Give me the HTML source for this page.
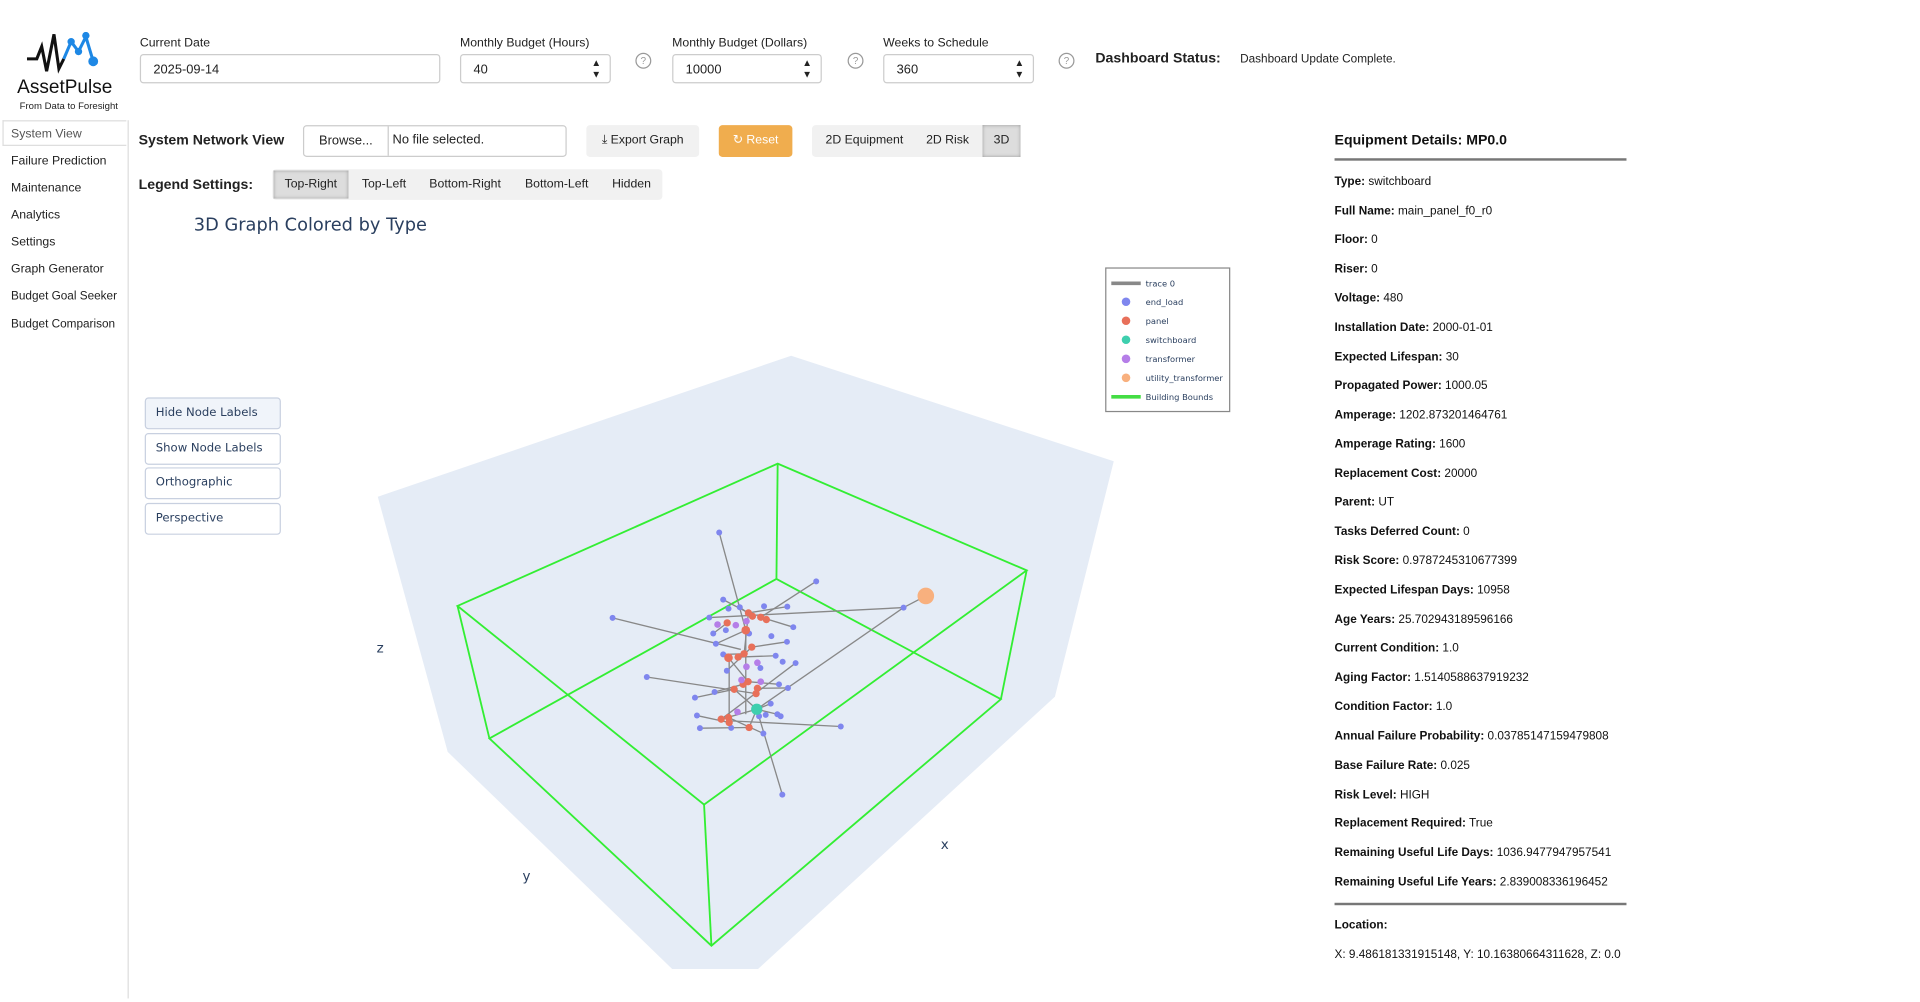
<!DOCTYPE html>
<html><head><meta charset="utf-8"><style>
html,body{margin:0;padding:0;background:#fff;overflow:hidden;width:1920px;height:1002px}
#w{position:absolute;left:0;top:0;width:1560px;height:814px;transform:scale(1.2266);transform-origin:0 0;font-family:"Liberation Sans",sans-serif;color:#222}
.a{position:absolute;white-space:nowrap}
.lbl{font-size:10px;color:#222}
.inp{position:absolute;height:24px;border:1px solid #ccc;border-radius:3px;box-sizing:border-box;font-size:10.5px;padding:6px 10px;background:#fff}
.spin{position:absolute;right:7px;top:2px;font-size:8px;line-height:9px}
.q{position:absolute;width:11px;height:11px;border:1px solid #999;border-radius:50%;font-size:8px;color:#999;text-align:center;line-height:11px}
.nav{position:absolute;left:9px;font-size:10px;white-space:nowrap}
.btn{position:absolute;height:26px;background:#f1f1f1;border-radius:3px;font-size:10px;line-height:26px;text-align:center}
.rp{position:absolute;left:1088px;font-size:9.6px;color:#111;white-space:nowrap}
.rp b{font-weight:bold}
.pb{position:absolute;left:118px;width:111px;height:26px;border:1px solid #c8d0e0;border-radius:3px;box-sizing:border-box;color:#2a3f5f;padding:6px 8px;font-family:"DejaVu Sans",sans-serif;font-size:9.5px;white-space:nowrap}
</style></head><body><div id="w">
<svg class="a" style="left:20px;top:26px" width="70" height="38" viewBox="0 0 70 38">
<polyline points="2,22 10,22 14,12 18,32 24,2 28,30 32,22" fill="none" stroke="#111" stroke-width="2.5"/>
<polyline points="32,22 38,8 44,16 50,4 56,24" fill="none" stroke="#1e88e5" stroke-width="2.5"/>
<circle cx="38" cy="8" r="3" fill="#1e88e5"/><circle cx="44" cy="16" r="3" fill="#1e88e5"/><circle cx="50" cy="3" r="3" fill="#1e88e5"/><circle cx="56" cy="24" r="4" fill="#1e88e5"/>
</svg>
<div class="a" style="left:14px;top:63px;font-size:15.5px;color:#111">AssetPulse</div>
<div class="a" style="left:16px;top:82px;font-size:7.8px">From Data to Foresight</div>
<div class="a lbl" style="left:114px;top:30px">Current Date</div>
<div class="inp" style="left:114px;top:44px;width:245px">2025-09-14</div>
<div class="a lbl" style="left:375px;top:30px">Monthly Budget (Hours)</div>
<div class="inp" style="left:375px;top:44px;width:123px">40<div class="spin">▲<br>▼</div></div>
<div class="q" style="left:518px;top:43px">?</div>
<div class="a lbl" style="left:548px;top:30px">Monthly Budget (Dollars)</div>
<div class="inp" style="left:548px;top:44px;width:122px">10000<div class="spin">▲<br>▼</div></div>
<div class="q" style="left:691px;top:43px">?</div>
<div class="a lbl" style="left:720px;top:30px">Weeks to Schedule</div>
<div class="inp" style="left:720px;top:44px;width:123px">360<div class="spin">▲<br>▼</div></div>
<div class="q" style="left:863px;top:43px">?</div>
<div class="a" style="left:893px;top:42px;font-size:11.5px;font-weight:bold">Dashboard Status:</div>
<div class="a" style="left:1011px;top:43px;font-size:9.6px">Dashboard Update Complete.</div>
<div class="a" style="left:104px;top:98px;width:1px;height:716px;background:#ddd"></div>
<div class="a" style="left:2px;top:98px;width:101px;height:21px;border:1px solid #ddd;border-right:none;box-sizing:border-box"></div>
<div class="nav" style="top:104px;color:#555">System View</div>
<div class="nav" style="top:126px">Failure Prediction</div>
<div class="nav" style="top:148px">Maintenance</div>
<div class="nav" style="top:170px">Analytics</div>
<div class="nav" style="top:192px">Settings</div>
<div class="nav" style="top:214px">Graph Generator</div>
<div class="nav" style="top:236px;font-size:9.6px">Budget Goal Seeker</div>
<div class="nav" style="top:259px;font-size:9.6px">Budget Comparison</div>
<div class="a" style="left:113px;top:109px;font-size:11.5px;font-weight:bold">System Network View</div>
<div class="a" style="left:247px;top:102px;width:215px;height:26px;border:1px solid #ccc;border-radius:3px;box-sizing:border-box"></div>
<div class="a" style="left:248px;top:103px;width:68px;height:24px;border-right:1px solid #ccc;font-size:10.5px;line-height:24px;text-align:center">Browse...</div>
<div class="a" style="left:320px;top:108px;font-size:10.5px">No file selected.</div>
<div class="btn" style="left:478px;top:102px;width:92px">⤓ Export Graph</div>
<div class="btn" style="left:586px;top:102px;width:60px;background:#f0ad4e;color:#fff">↻ Reset</div>
<div class="btn" style="left:662px;top:102px;width:170px"></div>
<div class="a" style="left:673px;top:109px;font-size:10px">2D Equipment</div>
<div class="a" style="left:755px;top:109px;font-size:10px">2D Risk</div>
<div class="a" style="left:801px;top:102px;width:31px;height:26px;background:#ddd;box-shadow:inset 0 0 3px #999;font-size:10px;line-height:26px;text-align:center">3D</div>
<div class="a" style="left:113px;top:145px;font-size:11.5px;font-weight:bold">Legend Settings:</div>
<div class="btn" style="left:222px;top:138px;width:318px;height:25px"></div>
<div class="a" style="left:223px;top:139px;width:61px;height:23px;background:#ddd;box-shadow:inset 0 0 3px #999"></div>
<div class="a" style="left:232px;top:145px;font-size:10px">Top-Right</div>
<div class="a" style="left:295px;top:145px;font-size:10px">Top-Left</div>
<div class="a" style="left:350px;top:145px;font-size:10px">Bottom-Right</div>
<div class="a" style="left:428px;top:145px;font-size:10px">Bottom-Left</div>
<div class="a" style="left:499px;top:145px;font-size:10px">Hidden</div>
<div class="a" style="left:158px;top:176px;font-size:14.5px;color:#2a3f5f;font-family:'DejaVu Sans',sans-serif">3D Graph Colored by Type</div>
<svg class="a" style="left:0;top:0" width="1560" height="814">
<polygon points="645,290 908,376 860,568 618,790 548,790 365,613 308,405" fill="#e5ecf6"/>
<g stroke="#33ee33" stroke-width="1.5" fill="none">
<polygon points="634,378 837,465 574,656 373,494"/>
<polygon points="633,472 816,570 580,771 399,602"/>
<line x1="634" y1="378" x2="633" y2="472"/><line x1="837" y1="465" x2="816" y2="570"/>
<line x1="574" y1="656" x2="580" y2="771"/><line x1="373" y1="494" x2="399" y2="602"/>
</g>
<g transform="translate(487.5,422.5) scale(0.2708)">
<g stroke="#888" stroke-width="4" fill="none">
<line x1="365" y1="43" x2="445" y2="337"/><line x1="44" y1="300" x2="430" y2="395"/><line x1="987" y1="234" x2="920" y2="269"/><line x1="920" y1="269" x2="335" y2="299"/><line x1="920" y1="269" x2="478" y2="575"/><line x1="657" y1="190" x2="490" y2="298"/><line x1="147" y1="478" x2="476" y2="528"/><line x1="731" y1="627" x2="400" y2="610"/><line x1="555" y1="832" x2="478" y2="575"/><line x1="445" y1="337" x2="445" y2="590"/><line x1="395" y1="420" x2="395" y2="600"/>
<line x1="453" y1="285" x2="377" y2="245"/><line x1="453" y1="285" x2="570" y2="266"/><line x1="465" y1="295" x2="427" y2="268"/><line x1="490" y1="298" x2="588" y2="328"/><line x1="389" y1="315" x2="347" y2="347"/><line x1="445" y1="337" x2="355" y2="378"/><line x1="463" y1="388" x2="569" y2="372"/><line x1="440" y1="408" x2="377" y2="410"/><line x1="422" y1="418" x2="535" y2="414"/><line x1="463" y1="388" x2="388" y2="459"/><line x1="452" y1="492" x2="545" y2="500"/><line x1="437" y1="500" x2="351" y2="523"/><line x1="410" y1="515" x2="292" y2="540"/><line x1="480" y1="512" x2="572" y2="511"/><line x1="371" y1="605" x2="595" y2="436"/><line x1="395" y1="615" x2="298" y2="594"/><line x1="455" y1="630" x2="307" y2="632"/><line x1="478" y1="575" x2="371" y2="605"/><line x1="478" y1="575" x2="455" y2="630"/><line x1="478" y1="575" x2="540" y2="590"/><line x1="478" y1="575" x2="520" y2="558"/><line x1="478" y1="575" x2="410" y2="515"/><line x1="452" y1="492" x2="393" y2="420"/><line x1="440" y1="408" x2="453" y2="285"/><line x1="393" y1="600" x2="498" y2="648"/>
</g>
<g fill="#7f86ee">
<circle cx="365" cy="43" r="9"/><circle cx="657" cy="190" r="9"/><circle cx="920" cy="269" r="9"/><circle cx="377" cy="245" r="9"/><circle cx="393" cy="272" r="9"/><circle cx="427" cy="268" r="9"/><circle cx="500" cy="265" r="9"/><circle cx="570" cy="266" r="9"/><circle cx="335" cy="299" r="9"/><circle cx="44" cy="300" r="9"/><circle cx="588" cy="328" r="9"/><circle cx="347" cy="347" r="9"/><circle cx="355" cy="378" r="9"/><circle cx="569" cy="372" r="9"/><circle cx="385" cy="337" r="9"/><circle cx="455" cy="347" r="9"/><circle cx="522" cy="355" r="9"/><circle cx="377" cy="410" r="9"/><circle cx="535" cy="414" r="9"/><circle cx="556" cy="432" r="9"/><circle cx="595" cy="436" r="9"/><circle cx="489" cy="451" r="9"/><circle cx="388" cy="459" r="9"/><circle cx="147" cy="478" r="9"/><circle cx="351" cy="523" r="9"/><circle cx="545" cy="500" r="9"/><circle cx="572" cy="511" r="9"/><circle cx="292" cy="540" r="9"/><circle cx="520" cy="558" r="9"/><circle cx="298" cy="594" r="9"/><circle cx="307" cy="632" r="9"/><circle cx="401" cy="631" r="9"/><circle cx="498" cy="648" r="9"/><circle cx="731" cy="627" r="9"/><circle cx="555" cy="832" r="9"/><circle cx="540" cy="590" r="9"/><circle cx="550" cy="596" r="9"/><circle cx="485" cy="596" r="9"/><circle cx="505" cy="592" r="9"/>
</g>
<g fill="#e8705a">
<circle cx="453" cy="285" r="11"/><circle cx="465" cy="295" r="11"/><circle cx="490" cy="298" r="11"/><circle cx="507" cy="305" r="11"/><circle cx="389" cy="315" r="11"/><circle cx="445" cy="337" r="13"/><circle cx="463" cy="388" r="11"/><circle cx="440" cy="408" r="11"/><circle cx="393" cy="420" r="13"/><circle cx="422" cy="418" r="11"/><circle cx="452" cy="492" r="11"/><circle cx="437" cy="500" r="11"/><circle cx="410" cy="515" r="11"/><circle cx="476" cy="528" r="11"/><circle cx="480" cy="512" r="11"/><circle cx="371" cy="605" r="11"/><circle cx="395" cy="615" r="11"/><circle cx="455" cy="630" r="11"/><circle cx="393" cy="600" r="11"/>
</g>
<g fill="#b57ee8">
<circle cx="360" cy="320" r="10"/><circle cx="415" cy="322" r="10"/><circle cx="447" cy="310" r="10"/><circle cx="447" cy="447" r="10"/><circle cx="480" cy="435" r="10"/><circle cx="432" cy="487" r="10"/><circle cx="490" cy="492" r="10"/><circle cx="420" cy="583" r="10"/>
</g>
<circle cx="478" cy="575" r="17" fill="#3ecfae"/>
<circle cx="987" cy="234" r="25" fill="#f8b07e"/>
</g>
<g font-family="DejaVu Sans,sans-serif" font-size="11" fill="#2a3f5f">
<text x="307" y="532">z</text><text x="426" y="718">y</text><text x="767" y="692">x</text>
</g>
<rect x="901.5" y="218.5" width="101" height="117" fill="#fff" stroke="#888"/>
<g font-family="DejaVu Sans,sans-serif" font-size="6.8" fill="#2a3f5f">
<line x1="906" y1="231" x2="930" y2="231" stroke="#888" stroke-width="3"/><text x="934" y="233.5">trace 0</text>
<circle cx="918" cy="246" r="3.5" fill="#7f86ee"/><text x="934" y="248.5">end_load</text>
<circle cx="918" cy="261.5" r="3.5" fill="#e8705a"/><text x="934" y="264">panel</text>
<circle cx="918" cy="277" r="3.5" fill="#3ecfae"/><text x="934" y="279.5">switchboard</text>
<circle cx="918" cy="292.5" r="3.5" fill="#b57ee8"/><text x="934" y="295">transformer</text>
<circle cx="918" cy="308" r="3.5" fill="#f8b07e"/><text x="934" y="310.5">utility_transformer</text>
<line x1="906" y1="323.5" x2="930" y2="323.5" stroke="#44dd44" stroke-width="3"/><text x="934" y="326">Building Bounds</text>
</g>
</svg>
<div class="pb" style="top:324px;background:#f0f4fa">Hide Node Labels</div>
<div class="pb" style="top:353px;background:#fff">Show Node Labels</div>
<div class="pb" style="top:381px;background:#fff">Orthographic</div>
<div class="pb" style="top:410px;background:#fff">Perspective</div>
<div class="rp" style="top:109px;font-size:11.5px;font-weight:bold">Equipment Details: MP0.0</div>
<div class="a" style="left:1088px;top:129px;width:238px;height:2px;background:#777"></div>
<div class="rp" style="top:143px"><b>Type:</b> switchboard</div>
<div class="rp" style="top:167px"><b>Full Name:</b> main_panel_f0_r0</div>
<div class="rp" style="top:190px"><b>Floor:</b> 0</div>
<div class="rp" style="top:214px"><b>Riser:</b> 0</div>
<div class="rp" style="top:238px"><b>Voltage:</b> 480</div>
<div class="rp" style="top:262px"><b>Installation Date:</b> 2000-01-01</div>
<div class="rp" style="top:286px"><b>Expected Lifespan:</b> 30</div>
<div class="rp" style="top:309px"><b>Propagated Power:</b> 1000.05</div>
<div class="rp" style="top:333px"><b>Amperage:</b> 1202.873201464761</div>
<div class="rp" style="top:357px"><b>Amperage Rating:</b> 1600</div>
<div class="rp" style="top:381px"><b>Replacement Cost:</b> 20000</div>
<div class="rp" style="top:404px"><b>Parent:</b> UT</div>
<div class="rp" style="top:428px"><b>Tasks Deferred Count:</b> 0</div>
<div class="rp" style="top:452px"><b>Risk Score:</b> 0.9787245310677399</div>
<div class="rp" style="top:476px"><b>Expected Lifespan Days:</b> 10958</div>
<div class="rp" style="top:500px"><b>Age Years:</b> 25.702943189596166</div>
<div class="rp" style="top:523px"><b>Current Condition:</b> 1.0</div>
<div class="rp" style="top:547px"><b>Aging Factor:</b> 1.5140588637919232</div>
<div class="rp" style="top:571px"><b>Condition Factor:</b> 1.0</div>
<div class="rp" style="top:595px"><b>Annual Failure Probability:</b> 0.03785147159479808</div>
<div class="rp" style="top:619px"><b>Base Failure Rate:</b> 0.025</div>
<div class="rp" style="top:643px"><b>Risk Level:</b> HIGH</div>
<div class="rp" style="top:666px"><b>Replacement Required:</b> True</div>
<div class="rp" style="top:690px"><b>Remaining Useful Life Days:</b> 1036.9477947957541</div>
<div class="rp" style="top:714px"><b>Remaining Useful Life Years:</b> 2.839008336196452</div>
<div class="a" style="left:1088px;top:736px;width:238px;height:2px;background:#777"></div>
<div class="rp" style="top:749px"><b>Location:</b></div>
<div class="rp" style="top:773px">X: 9.486181331915148, Y: 10.16380664311628, Z: 0.0</div>
</div></body></html>
